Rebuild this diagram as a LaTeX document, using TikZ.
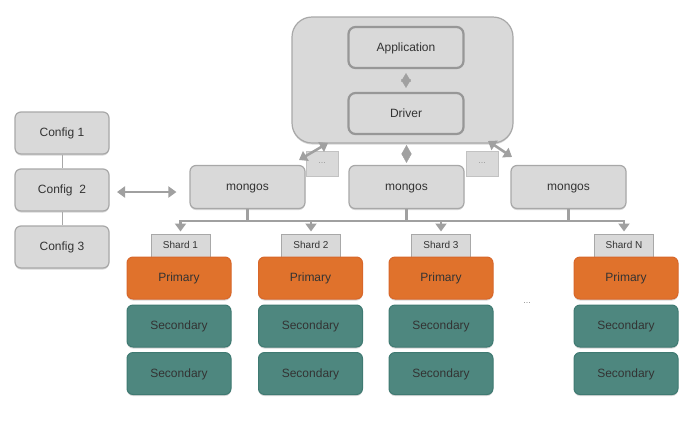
\documentclass[tikz,border=0pt]{standalone}
\usepackage{fontspec}
\setmainfont{Liberation Sans}
\usetikzlibrary{arrows.meta,shadows}
\definecolor{boxgray}{HTML}{D9D9D9}
\definecolor{edgegray}{HTML}{A8A8A8}
\definecolor{linegray}{HTML}{A0A0A0}
\definecolor{txt}{HTML}{333333}
\definecolor{orng}{HTML}{E0722C}
\definecolor{orngedge}{HTML}{D8672A}
\definecolor{teal}{HTML}{4E877F}
\definecolor{tealedge}{HTML}{3F7A72}
\tikzset{
  shad/.style={drop shadow={shadow xshift=0pt,shadow yshift=-1.5pt,opacity=0.25,fill=black!60}},
  bigtext/.style={text=txt,font=\fontsize{12}{14}\selectfont,text height=7.5pt,text depth=0pt},
  gbox/.style={shad,draw=edgegray,line width=1.2pt,fill=boxgray,rounded corners=6pt,bigtext,inner sep=0pt},
  inbox/.style={draw=edgegray!90!black,line width=2.2pt,fill=boxgray,rounded corners=7pt,bigtext,inner sep=0pt,minimum width=115pt,minimum height=41pt},
  cfg/.style={gbox,minimum width=94pt,minimum height=42pt},
  mgs/.style={gbox,minimum width=115pt,minimum height=43pt},
  shardlbl/.style={draw=edgegray,line width=1pt,fill=boxgray,text=txt,font=\fontsize{10}{12}\selectfont,text height=6.5pt,text depth=0pt,minimum width=59pt,minimum height=23pt,inner sep=0pt},
  dotbox/.style={draw=edgegray!70,line width=0.8pt,fill=boxgray,text=black!40,font=\fontsize{9}{10}\selectfont,minimum width=32pt,minimum height=25pt,inner sep=0pt},
  prim/.style={shad,draw=orngedge,line width=1pt,fill=orng,rounded corners=6pt,bigtext,minimum width=104pt,minimum height=42pt,inner sep=0pt},
  sec/.style={shad,draw=tealedge,line width=1pt,fill=teal,rounded corners=6pt,bigtext,minimum width=104pt,minimum height=42pt,inner sep=0pt},
  dia/.style={draw=linegray,line width=0.4pt,{Triangle[length=#1,width=10pt,fill=linegray]}-{Triangle[length=#1,width=10pt,fill=linegray]}},
  dbl/.style={draw=linegray,line width=2.8pt,{Triangle[length=8pt,width=11pt]}-{Triangle[length=8pt,width=11pt]}},
  bus/.style={draw=linegray,line width=2.8pt},
  down/.style={draw=linegray,line width=2.8pt,-{Triangle[length=8pt,width=11pt]}},
  thin/.style={draw=edgegray,line width=1pt}
}
\begin{document}
\begin{tikzpicture}[x=1pt,y=-1pt]
\useasboundingbox[fill=white] (0,0) rectangle (680,424);
% container
\node[shad,draw=edgegray,line width=1.2pt,fill=boxgray,rounded corners=20pt,minimum width=221pt,minimum height=126pt,inner sep=0pt] (cont) at (402.5,80) {};
\node[inbox] (app) at (406,47.5) {Application};
\node[inbox] (drv) at (406,113.5) {Driver};
\draw[dia=8.5pt,shorten <=4pt,shorten >=4pt] (app.south) -- (drv.north);
% mongos
\node[mgs] (m1) at (247.5,187) {mongos};
\node[mgs] (m2) at (406.5,187) {mongos};
\node[mgs] (m3) at (568.5,187) {mongos};
\node[dotbox] (d1) at (322,163.5) {...};
\node[dotbox] (d2) at (482,163.5) {...};
\draw[dia=9pt,shorten <=2pt,shorten >=2pt] (406.5,143) coordinate (cb) -- (m2.north);
\coordinate (ca) at (328,143);
\coordinate (ma) at (299,160);
\coordinate (cc) at (488,141);
\coordinate (mc) at (512,157);
\draw[dbl,line width=2.5pt] (ca) -- (ma);
\draw[dbl,line width=2.5pt] (cc) -- (mc);
% configs
\node[cfg] (c1) at (62,133) {Config 1};
\node[cfg] (c2) at (62,190) {Config\ \ 2};
\node[cfg] (c3) at (62,247) {Config 3};
\draw[thin] (c1) -- (c2);
\draw[thin] (c2) -- (c3);
\coordinate (c2r) at (109,192);
\draw[dbl,shorten <=8pt,shorten >=13pt] (c2r) -- (c2r -| m1.west);
% shards
\node[shardlbl] (s1) at (180.5,245.5) {Shard 1};
\node[shardlbl] (s2) at (311,245.5) {Shard 2};
\node[shardlbl] (s3) at (441,245.5) {Shard 3};
\node[shardlbl] (s4) at (624,245.5) {Shard N};
\coordinate (bl) at (180.5,221);
\coordinate (br) at (624,221);
\draw[bus] (m1.south) -- (m1.south |- bl);
\draw[bus] (m2.south) -- (m2.south |- bl);
\draw[bus] (m3.south) -- (m3.south |- bl);
\draw[bus,line cap=butt] ([xshift=-1.4pt]bl) -- ([xshift=1.4pt]br);
\draw[down,shorten >=2pt] (bl) -- (s1.north);
\draw[down,shorten >=2pt] (s2.north |- bl) -- (s2.north);
\draw[down,shorten >=2pt] (s3.north |- bl) -- (s3.north);
\draw[down,shorten >=2pt] (br) -- (s4.north);
% replica sets
\foreach \n/\x in {1/179,2/310.5,3/441,4/626}{
  \node[prim] (p\n) at (\x,278) {Primary};
  \node[sec] (a\n) at (\x,326) {Secondary};
  \node[sec] (b\n) at (\x,373.5) {Secondary};
}
\node[text=black!45,font=\fontsize{9}{10}\selectfont] (gap) at (527,303) {...};
\end{tikzpicture}
\end{document}
